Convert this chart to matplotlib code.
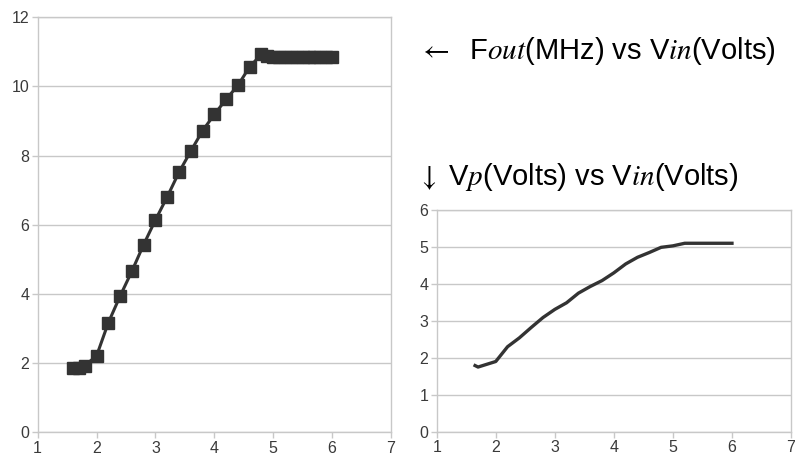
import matplotlib
matplotlib.use("Agg")
import matplotlib.pyplot as plt

plt.rcParams['font.family'] = ['Liberation Sans', 'DejaVu Sans']
plt.rcParams['mathtext.fontset'] = 'stix'

# Fout (MHz) vs Vin (Volts)
vin_f = [1.6, 1.7, 1.8, 2.0, 2.2, 2.4, 2.6, 2.8, 3.0, 3.2, 3.4, 3.6, 3.8, 4.0,
         4.2, 4.4, 4.6, 4.8, 4.9, 5.0, 5.1, 5.2, 5.3, 5.4, 5.5, 5.6, 5.7, 5.8,
         5.9, 6.0]
fout = [1.87, 1.87, 1.93, 2.21, 3.17, 3.94, 4.66, 5.43, 6.14, 6.81, 7.52, 8.13,
        8.72, 9.19, 9.63, 10.03, 10.57, 10.93, 10.87, 10.86, 10.86, 10.86, 10.86,
        10.86, 10.86, 10.86, 10.86, 10.86, 10.86, 10.86]

# Vp (Volts) vs Vin (Volts)
vin_p = [1.65, 1.7, 2.0, 2.2, 2.4, 2.6, 2.8, 3.0, 3.2, 3.4, 3.6, 3.8, 4.0,
         4.2, 4.4, 4.6, 4.8, 5.0, 5.2, 5.4, 5.6, 5.8, 6.0]
vp = [1.79, 1.75, 1.90, 2.30, 2.54, 2.82, 3.09, 3.31, 3.49, 3.75, 3.93, 4.09,
      4.30, 4.54, 4.72, 4.85, 4.99, 5.03, 5.10, 5.10, 5.10, 5.10, 5.10]

line_col = '#333333'
grid_col = '#c8c8c8'
text_col = '#3a3a3a'


def style_axes(ax, ymax, ystep):
    ax.set_xlim(1, 7)
    ax.set_ylim(0, ymax)
    ax.set_xticks(range(1, 8))
    ax.set_yticks(range(0, ymax + 1, ystep))
    ax.grid(axis='y', color=grid_col, linewidth=1)
    ax.set_axisbelow(True)
    for side in ['left', 'bottom', 'right', 'top']:
        ax.spines[side].set_color(grid_col)
        ax.spines[side].set_linewidth(1)
    ax.tick_params(colors=grid_col, labelcolor=text_col, labelsize=11.5,
                   length=4, width=1, pad=2)


fig = plt.figure(figsize=(7.95, 4.63), dpi=100)

ax1 = fig.add_axes([0.0474, 0.0663, 0.4444, 0.8963])
ax1.plot(vin_f, fout, color=line_col, linewidth=2.2, marker='s',
         markersize=8, clip_on=False)
style_axes(ax1, 12, 2)

ax2 = fig.add_axes([0.5493, 0.0676, 0.4457, 0.4788])
ax2.plot(vin_p, vp, color=line_col, linewidth=2.4, clip_on=False)
style_axes(ax2, 6, 1)

fig.text(418 / 795, 1 - 59 / 463,
         r'$\leftarrow$  F$out$(MHz) vs V$in$(Volts)', fontsize=21,
         color='black', va='baseline', ha='left')
fig.text(417 / 795, 1 - 185 / 463,
         r'$\downarrow$ V$p$(Volts) vs V$in$(Volts)', fontsize=21,
         color='black', va='baseline', ha='left')

fig.savefig('out.png', dpi=100)
